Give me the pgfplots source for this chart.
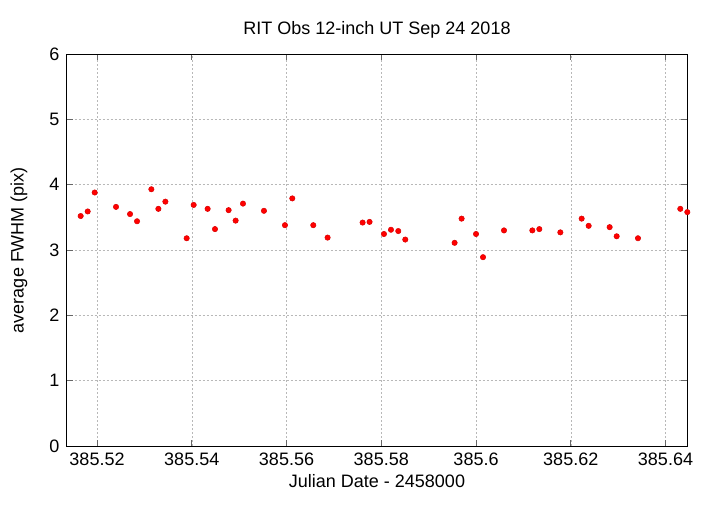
\documentclass[border=0pt]{standalone}
\usepackage{pgfplots}
\pgfplotsset{compat=1.18}
\usepackage{fontspec}
\setmainfont{Liberation Sans}
\begin{document}
\fontsize{18}{21}\selectfont
\begin{tikzpicture}
\begin{axis}[
  at={(0,0)}, anchor=south west,
  scale only axis,
  width=620.6pt, height=392pt,
  xmin=385.5136, xmax=385.6446,
  ymin=0, ymax=6,
  xtick={385.52,385.54,385.56,385.58,385.6,385.62,385.64},
  xticklabels={385.52,385.54,385.56,385.58,385.6,385.62,385.64},
  ytick={0,1,2,3,4,5,6},
  scaled x ticks=false,
  /pgf/number format/assume math mode=true,
  tick align=inside,
  major tick length=6pt,
  tick style={color=black!60, line width=0.9pt},
  axis line style={line width=1pt, black},
  xmajorgrids, ymajorgrids,
  grid style={color=black!28, dash pattern=on 2pt off 2pt, line width=0.5pt},
  xticklabel style={font=\fontsize{18}{21}\selectfont, yshift=-1pt},
  yticklabel style={font=\fontsize{18}{21}\selectfont, xshift=-1pt},
  title={RIT Obs 12-inch UT Sep 24 2018},
  title style={font=\fontsize{18}{21}\selectfont, yshift=4pt},
  xlabel={Julian Date - 2458000},
  ylabel={average FWHM (pix)},
  label style={font=\fontsize{18}{21}\selectfont},
  xlabel style={yshift=4pt},
  ylabel style={yshift=10pt},
  clip=false,
]
\addplot[only marks, mark=*, mark size=2.7pt, color=red, mark options={fill=red, draw=red!85!black, line width=0.5pt}] coordinates {
(385.51655,3.52) (385.51803,3.59) (385.51951,3.88) (385.52401,3.66)
(385.52697,3.55) (385.52845,3.44) (385.53147,3.93) (385.53295,3.63)
(385.53443,3.74) (385.53892,3.18) (385.54040,3.69) (385.54335,3.63)
(385.54490,3.32) (385.54778,3.61) (385.54926,3.45) (385.55081,3.71)
(385.55524,3.60) (385.55967,3.38) (385.56122,3.79) (385.56565,3.38)
(385.56867,3.19) (385.57606,3.42) (385.57753,3.43) (385.58057,3.245)
(385.58205,3.31) (385.58359,3.29) (385.58507,3.16) (385.59548,3.11)
(385.59696,3.48) (385.60000,3.245) (385.60148,2.89) (385.60591,3.30)
(385.61189,3.30) (385.61336,3.32) (385.61780,3.27) (385.62230,3.48)
(385.62378,3.37) (385.62821,3.35) (385.62969,3.21) (385.63419,3.18)
(385.64312,3.63) (385.64460,3.58)
};
\end{axis}
\pgfresetboundingbox
\path[use as bounding box] (-66.7pt,-58pt) rectangle (653.3pt,446pt);
\end{tikzpicture}
\end{document}
